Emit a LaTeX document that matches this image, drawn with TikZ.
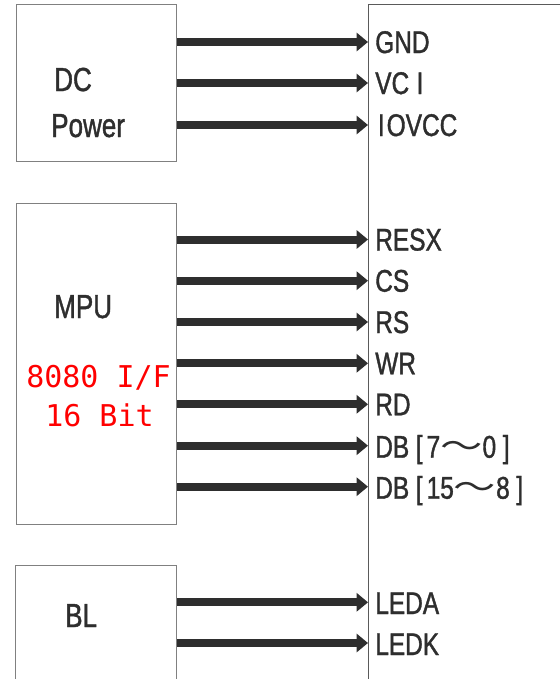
\documentclass[tikz,border=0pt]{standalone}
\usepackage{fontspec}
\setmainfont{Liberation Sans}[FakeStretch=0.78,FakeBold=1.2]
\newfontfamily\cjkfont{Noto Sans CJK SC}
\newfontfamily\monofont{DejaVu Sans Mono}
\usetikzlibrary{arrows.meta}
\definecolor{ink}{HTML}{2E2E2E}
\definecolor{edgegray}{HTML}{808080}
\definecolor{chipgray}{HTML}{5A5A5A}
\newcommand{\fwtilde}{\scalebox{1.35}[1]{\cjkfont ～}}
\tikzset{
  boxnode/.style={draw=edgegray, line width=1.1pt, rectangle, inner sep=0pt, anchor=north west},
  chipnode/.style={draw=chipgray, line width=0.9pt, rectangle, inner sep=0pt, anchor=north west},
  pinarrow/.style={draw=ink, line width=6pt, -{Triangle[length=8.5pt,width=13.5pt]}},
  pinlabel/.style={anchor=base west, inner sep=0pt, text=ink, font=\fontsize{23.5}{28}\selectfont},
  boxlabel/.style={anchor=base west, inner sep=0pt, text=ink, font=\fontsize{25}{30}\selectfont},
  redlabel/.style={anchor=base west, inner sep=0pt, text=red, font=\monofont\fontsize{22.5}{27}\selectfont}
}
\begin{document}
\begin{tikzpicture}[x=0.75pt,y=-0.75pt]
\useasboundingbox (0,0) rectangle (560,679);
\fill[white] (0,0) rectangle (560,679);

% blocks
\node[boxnode, minimum width=120pt, minimum height=117.75pt] (dc) at (16,4) {};
\node[boxnode, minimum width=120pt, minimum height=240.75pt] (mpu) at (16,203) {};
\node[boxnode, minimum width=120.75pt, minimum height=97.5pt] (bl) at (15,565) {};
\node[chipnode, minimum width=189pt, minimum height=522pt] (chip) at (368,4) {};

% block labels
\node[boxlabel] (tdc) at (54,91) {DC};
\node[boxlabel] (tpow) at (51,137) {Power};
\node[boxlabel] (tmpu) at (54,318) {MPU};
\node[redlabel] (t8080) at (26,387) {8080 I/F};
\node[redlabel] (t16) at (45,426) {16 Bit};
\node[boxlabel] (tbl) at (65,627) {BL};

% pin coordinates on the chip edge
\coordinate (pGND) at (368,42);
\coordinate (pVCI) at (368,83);
\coordinate (pIOVCC) at (368,125);
\coordinate (pRESX) at (368,239.5);
\coordinate (pCS) at (368,280.7);
\coordinate (pRS) at (368,322);
\coordinate (pWR) at (368,363.3);
\coordinate (pRD) at (368,404.3);
\coordinate (pDBa) at (368,445.7);
\coordinate (pDBb) at (368,486.7);
\coordinate (pLEDA) at (368,602.3);
\coordinate (pLEDK) at (368,643);

% arrows
\foreach \p in {pGND,pVCI,pIOVCC}
  \draw[pinarrow] (dc.east |- \p) -- (\p);
\foreach \p in {pRESX,pCS,pRS,pWR,pRD,pDBa,pDBb}
  \draw[pinarrow] (mpu.east |- \p) -- (\p);
\foreach \p in {pLEDA,pLEDK}
  \draw[pinarrow] (bl.east |- \p) -- (\p);

% pin labels
\node[pinlabel] (lGND) at (375,53) {GND};
\node[pinlabel] (lVCI) at (375,94) {VC\kern5.5pt I};
\node[pinlabel] (lIOVCC) at (375,136) {\kern2pt I\kern1.5pt OVCC};
\node[pinlabel] (lRESX) at (375,250.5) {RESX};
\node[pinlabel] (lCS) at (375,291.7) {CS};
\node[pinlabel] (lRS) at (375,333) {RS};
\node[pinlabel] (lWR) at (375,374.3) {WR};
\node[pinlabel] (lRD) at (375,415.3) {RD};
\node[pinlabel] (lDBa) at (375,457.7) {DB\kern5pt[\kern3pt 7\fwtilde 0\kern5pt]};
\node[pinlabel] (lDBb) at (375,498.7) {DB\kern5pt[\kern3pt 15\fwtilde 8\kern5pt]};
\node[pinlabel] (lLEDA) at (375,614) {LEDA};
\node[pinlabel] (lLEDK) at (375,655) {LEDK};
\end{tikzpicture}
\end{document}
